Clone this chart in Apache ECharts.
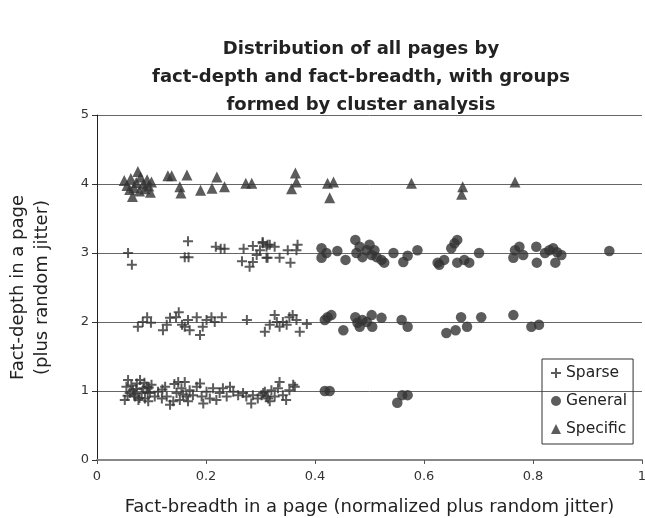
<!DOCTYPE html>
<html><head><meta charset="utf-8">
<script src="https://cdn.jsdelivr.net/npm/echarts@6/dist/echarts.min.js"></script>
<style>html,body{margin:0;padding:0;background:#fff}#c{width:645px;height:518px}</style>
</head><body><div id="c"></div>
<script>
const titleText = "Distribution of all pages by\nfact-depth and fact-breadth, with groups\nformed by cluster analysis";
const xName = "Fact-breadth in a page (normalized plus random jitter)";
const yName = "Fact-depth in a page\n(plus random jitter)";
const xTicks = [0, 0.2, 0.4, 0.6, 0.8, 1];
const yTicks = [0, 1, 2, 3, 4, 5];

const sparse = [
 [0.057,3.0],[0.064,2.83],[0.167,3.17],[0.161,2.94],[0.168,2.94],[0.218,3.09],[0.227,3.06],[0.234,3.06],[0.269,3.06],[0.286,3.1],[0.266,2.88],[0.28,2.8],[0.286,2.87],[0.293,2.97],[0.299,3.04],[0.304,3.14],[0.311,2.93],[0.313,3.12],[0.304,3.16],[0.311,3.09],[0.317,3.12],[0.326,3.09],[0.313,2.93],[0.335,2.93],[0.35,3.04],[0.355,2.86],[0.368,3.12],[0.366,3.04],
 [0.075,1.93],[0.084,2.0],[0.092,2.07],[0.099,1.99],[0.121,1.88],[0.128,1.96],[0.134,2.06],[0.145,2.07],[0.150,2.14],[0.156,1.96],[0.161,1.93],[0.167,2.03],[0.17,1.88],[0.183,2.07],[0.189,1.81],[0.194,1.93],[0.201,2.03],[0.21,2.07],[0.216,2.0],[0.229,2.07],[0.275,2.03],[0.308,1.86],[0.317,1.96],[0.326,2.1],[0.33,2.0],[0.335,1.93],[0.341,2.0],[0.348,1.96],[0.353,2.07],[0.359,2.1],[0.366,2.03],[0.372,1.86],[0.385,1.97],
 [0.051,0.87],[0.054,1.06],[0.057,1.16],[0.060,0.97],[0.066,1.01],[0.070,0.92],[0.073,1.11],[0.076,0.87],[0.079,1.16],[0.082,0.97],[0.085,1.04],[0.088,0.89],[0.091,1.06],[0.094,0.85],[0.097,0.97],[0.100,1.09],[0.106,0.92],[0.112,0.99],[0.119,0.89],[0.125,1.06],[0.128,0.92],[0.134,0.80],[0.140,0.85],[0.146,0.97],[0.149,1.13],[0.152,0.87],[0.155,1.04],[0.161,1.13],[0.164,0.92],[0.167,0.85],[0.170,1.01],[0.176,0.94],[0.183,1.06],[0.189,1.11],[0.192,0.92],[0.195,0.82],[0.201,0.99],[0.207,0.89],[0.213,1.04],[0.219,0.87],[0.225,0.97],[0.231,1.04],[0.238,0.92],[0.244,1.06],[0.250,0.99],[0.259,0.94],[0.268,0.97],[0.274,0.92],[0.283,0.82],[0.286,0.94],[0.295,0.89],[0.302,0.94],[0.308,0.99],[0.314,0.89],
 [0.305,0.97],[0.311,0.92],[0.317,0.85],[0.320,1.01],[0.326,0.92],[0.332,1.04],[0.335,1.13],[0.341,0.94],[0.347,0.87],[0.353,1.01],[0.360,1.09],[0.363,1.06],
 [0.063,1.08],[0.068,0.95],[0.072,1.03],[0.078,0.90],[0.087,1.12],[0.093,0.98],[0.056,0.93],[0.095,1.05],[0.142,1.10],[0.158,0.95],[0.12,1.02]
];
const general = [
 [0.412,3.07],[0.412,2.93],[0.421,3.0],[0.441,3.03],[0.456,2.9],[0.474,3.19],[0.476,3.0],[0.482,3.09],[0.487,2.94],[0.495,3.04],[0.5,3.12],[0.504,2.97],[0.509,3.04],[0.513,2.94],[0.522,2.9],[0.527,2.86],[0.544,3.0],[0.562,2.87],[0.57,2.96],[0.588,3.04],[0.625,2.86],
 [0.628,2.83],[0.637,2.9],[0.65,3.07],[0.656,3.14],[0.661,3.19],[0.661,2.86],[0.674,2.9],[0.683,2.86],[0.701,3.0],[0.764,2.93],[0.767,3.04],[0.775,3.09],[0.782,2.97],[0.806,3.09],[0.807,2.86],[0.822,3.0],[0.830,3.04],[0.837,3.07],[0.844,3.01],[0.852,2.97],[0.841,2.86],[0.94,3.03],
 [0.418,2.03],[0.423,2.07],[0.430,2.1],[0.452,1.88],[0.474,2.07],[0.478,1.99],[0.482,1.93],[0.487,2.03],[0.495,2.0],[0.504,2.10],[0.505,1.93],[0.522,2.06],[0.559,2.03],[0.57,1.93],
 [0.641,1.84],[0.658,1.88],[0.668,2.07],[0.679,1.93],[0.705,2.07],[0.764,2.1],[0.797,1.93],[0.811,1.96],
 [0.418,1.0],[0.427,1.0],[0.551,0.83],[0.56,0.94],[0.57,0.94]
];
const specific = [
 [0.050,4.05],[0.055,3.98],[0.060,3.92],[0.062,4.08],[0.065,3.82],[0.068,3.95],[0.072,4.02],[0.075,4.18],[0.078,3.90],[0.080,4.10],[0.085,4.00],[0.088,3.93],[0.092,4.06],[0.095,3.97],[0.098,3.88],[0.100,4.03],
 [0.130,4.12],[0.137,4.12],[0.152,3.96],[0.154,3.87],[0.165,4.13],[0.19,3.91],[0.211,3.94],[0.22,4.10],[0.234,3.96],[0.273,4.01],[0.284,4.01],
 [0.364,4.16],[0.366,4.03],[0.357,3.93],[0.423,4.01],[0.434,4.03],[0.427,3.80],[0.577,4.01],
 [0.671,3.96],[0.669,3.85],[0.767,4.03]
];

const plusPath = 'path://M4,0H6V4H10V6H6V10H4V6H0V4H4Z';
const ink = '#333';
const FONT = 'DejaVu Sans, Verdana, sans-serif';
const chart = echarts.init(document.getElementById('c'));
chart.setOption({
  animation: false,
  title: {
    text: titleText, left: 356, top: 30, textAlign: 'center',
    textStyle: {fontFamily: FONT, fontSize: 18, fontWeight: 'bold', color: '#222', lineHeight: 28}
  },
  grid: {left: 97, right: 3, top: 115, bottom: 58, containLabel: false, outerBoundsMode: 'none'},
  legend: {
    orient: 'vertical', left: 542, top: 359, itemWidth: 10, itemHeight: 10, itemGap: 10,
    padding: [5, 6, 6, 9], borderColor: '#333', borderWidth: 1,
    textStyle: {fontFamily: FONT, fontSize: 15.5, color: '#222', lineHeight: 18},
    data: [{name: 'Sparse', icon: plusPath}, {name: 'General', icon: 'circle'}, {name: 'Specific', icon: 'triangle'}]
  },
  xAxis: {
    type: 'value', min: 0, max: 1, interval: 0.2,
    name: xName, nameLocation: 'middle', nameGap: 38,
    nameTextStyle: {fontFamily: FONT, fontSize: 18, color: '#222'},
    axisLine: {lineStyle: {color: '#888', width: 2}},
    axisTick: {show: true, length: 4, lineStyle: {color: '#555'}},
    splitLine: {show: false},
    axisLabel: {fontFamily: FONT, fontSize: 13, color: '#333', margin: 10,
      formatter: v => xTicks.includes(+v.toFixed(2)) ? String(+v.toFixed(2)) : ''}
  },
  yAxis: {
    type: 'value', min: 0, max: 5, interval: 1,
    name: yName, nameLocation: 'middle', nameGap: 43, nameRotate: 90,
    nameTextStyle: {fontFamily: FONT, fontSize: 18, color: '#222', lineHeight: 24},
    axisLine: {show: true, lineStyle: {color: '#222', width: 1}},
    axisTick: {show: true, length: 5, lineStyle: {color: '#333'}},
    splitLine: {show: true, lineStyle: {color: '#666', width: 1}},
    axisLabel: {fontFamily: FONT, fontSize: 13, color: '#333', margin: 8,
      formatter: v => yTicks.includes(v) ? String(v) : ''}
  },
  series: [
    {name: 'Sparse', type: 'scatter', data: sparse, symbol: plusPath, symbolSize: 10, itemStyle: {color: ink}},
    {name: 'General', type: 'scatter', data: general, symbol: 'circle', symbolSize: 10.5, itemStyle: {color: ink}},
    {name: 'Specific', type: 'scatter', data: specific, symbol: 'triangle', symbolSize: 11, itemStyle: {color: ink}}
  ]
});
</script></body></html>
